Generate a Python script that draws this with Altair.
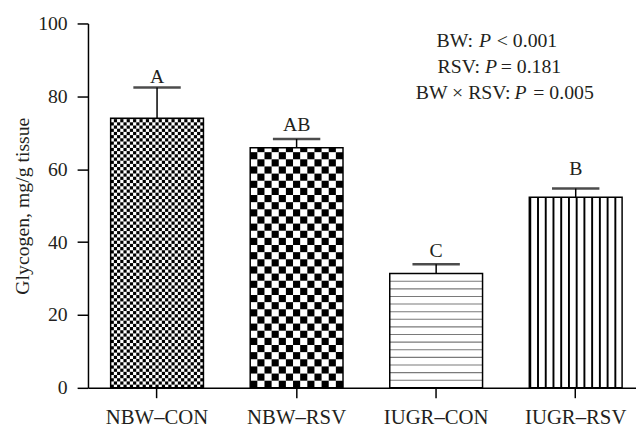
import altair as alt
import pandas as pd
import numpy as np

# ---- data ----
groups = ["NBW–CON", "NBW–RSV", "IUGR–CON", "IUGR–RSV"]
means = [74.0, 65.9, 31.4, 52.3]
upper = [82.4, 68.3, 33.9, 54.7]
letters = ["A", "AB", "C", "B"]
letter_y = [83.7, 70.5, 36.0, 58.5]
y_ticks = [0, 20, 40, 60, 80, 100]
stats_prefix = ["BW:", "RSV:", "BW × RSV:"]
stats_p = ["P", "P", "P"]
stats_suffix = ["< 0.001", "= 0.181", "= 0.005"]

FONT = "Liberation Serif"
INK = "#231f20"

bars = pd.DataFrame({"group": groups, "mean": means, "upper": upper,
                     "letter": letters, "letter_y": letter_y})

# ---- fill textures (decoration only, built to fit each bar) ----
def checker(group, top, ncols, cell):
    recs = []
    rows = int(np.ceil(top / cell))
    for r in range(rows):
        y0, y1 = r * cell, min((r + 1) * cell, top)
        for c in range(ncols):
            if (r + c) % 2 == 0:
                recs.append({"group": group, "col": c, "y0": y0, "y1": y1})
    return pd.DataFrame(recs)

def vstripes(group, top, nsub, every):
    recs = [{"group": group, "col": c, "y0": 0.0, "y1": top}
            for c in range(nsub) if c % every == 0]
    return pd.DataFrame(recs)

def hstripes(group, top, gap, thick):
    recs = []
    k = 1
    while k * gap < top - 0.5:
        recs.append({"group": group, "y0": k * gap - thick / 2, "y1": k * gap + thick / 2})
        k += 1
    return pd.DataFrame(recs)

chk1 = checker(groups[0], means[0], 29, 0.878)
chk2 = checker(groups[1], means[1], 13, 1.96)
hs3 = hstripes(groups[2], means[2], 2.09, 0.3)
vs4 = vstripes(groups[3], means[3], 48, 4)

x_scale = alt.Scale(domain=groups, paddingInner=0.335, paddingOuter=0.131, align=0.62)
y_scale = alt.Scale(domain=[0, 100], nice=False)

x_axis = alt.Axis(title=None, labelFont=FONT, labelFontSize=21, labelColor=INK,
                  labelAngle=0, domainColor="black", domainWidth=1.5,
                  tickColor="black", tickWidth=1.5, tickSize=10, labelPadding=9)
y_axis = alt.Axis(title="Glycogen, mg/g tissue", values=y_ticks, grid=False,
                  labelFont=FONT, labelFontSize=20, labelColor=INK,
                  titleFont=FONT, titleFontSize=20, titleFontWeight="normal",
                  titleColor=INK, titlePadding=5,
                  domainColor="black", domainWidth=1.5,
                  tickColor="black", tickWidth=1.5, tickSize=11, labelPadding=10)

def X():
    return alt.X("group:N", sort=groups, scale=x_scale, axis=x_axis, title=None)

def Y(field):
    return alt.Y(field, type="quantitative", scale=y_scale, axis=y_axis)

def XOff(n):
    return alt.XOffset("col:O", scale=alt.Scale(domain=list(range(n)),
                                                 paddingInner=0, paddingOuter=0))

base = alt.Chart(bars).mark_bar(color="white").encode(x=X(), y=Y("mean"))

l_chk1 = alt.Chart(chk1).mark_rect(color="black").encode(
    x=X(), xOffset=XOff(29), y=Y("y0"), y2="y1")
l_chk2 = alt.Chart(chk2).mark_rect(color="black").encode(
    x=X(), xOffset=XOff(13), y=Y("y0"), y2="y1")
l_hs3 = alt.Chart(hs3).mark_rect(color="#7a7a7a").encode(
    x=X(), y=Y("y0"), y2="y1")
l_vs4 = alt.Chart(vs4).mark_rect(color="black").encode(
    x=X(), xOffset=XOff(48), y=Y("y0"), y2="y1")

outline = alt.Chart(bars).mark_bar(fillOpacity=0, stroke="black", strokeWidth=1.5).encode(
    x=X(), y=Y("mean"))

err = alt.Chart(bars).mark_rule(color="black", strokeWidth=1.5).encode(
    x=X(), y=Y("mean"), y2="upper")
caps = alt.Chart(bars).mark_tick(color="black", size=48, thickness=2.5).encode(
    x=X(), y=Y("upper"))
lbl = alt.Chart(bars).mark_text(font=FONT, fontSize=20, color=INK,
                                baseline="alphabetic").encode(
    x=X(), y=Y("letter_y"), text="letter:N")

# ---- statistics annotation (three lines, italic P) ----
p_x = [396, 402, 432]
pre_x = [390, 397, 428]
suf_x = [414, 418, 451]
line_y = [24, 49.7, 76.3]
ann = []
for i in range(3):
    ann.append(alt.Chart(pd.DataFrame({"t": [stats_prefix[i]]})).mark_text(
        font=FONT, fontSize=20, color=INK, align="right", baseline="alphabetic").encode(
        text="t:N", x=alt.value(pre_x[i]), y=alt.value(line_y[i])))
    ann.append(alt.Chart(pd.DataFrame({"t": [stats_p[i]]})).mark_text(
        font=FONT, fontSize=20, fontStyle="italic", color=INK, align="left",
        baseline="alphabetic").encode(
        text="t:N", x=alt.value(p_x[i]), y=alt.value(line_y[i])))
    ann.append(alt.Chart(pd.DataFrame({"t": [stats_suffix[i]]})).mark_text(
        font=FONT, fontSize=20, color=INK, align="left", baseline="alphabetic").encode(
        text="t:N", x=alt.value(suf_x[i]), y=alt.value(line_y[i])))

chart = alt.layer(base, l_chk1, l_chk2, l_hs3, l_vs4, outline, err, caps, lbl, *ann).resolve_scale(
    xOffset="independent"
).properties(
    width=555, height=369,
    autosize=alt.AutoSizeParams(type="none"),
    padding={"left": 81, "top": 13, "right": 0, "bottom": 37},
    background="white",
).configure_view(stroke=None)

chart.save("out.html", embed_options={"renderer": "svg", "actions": False})
